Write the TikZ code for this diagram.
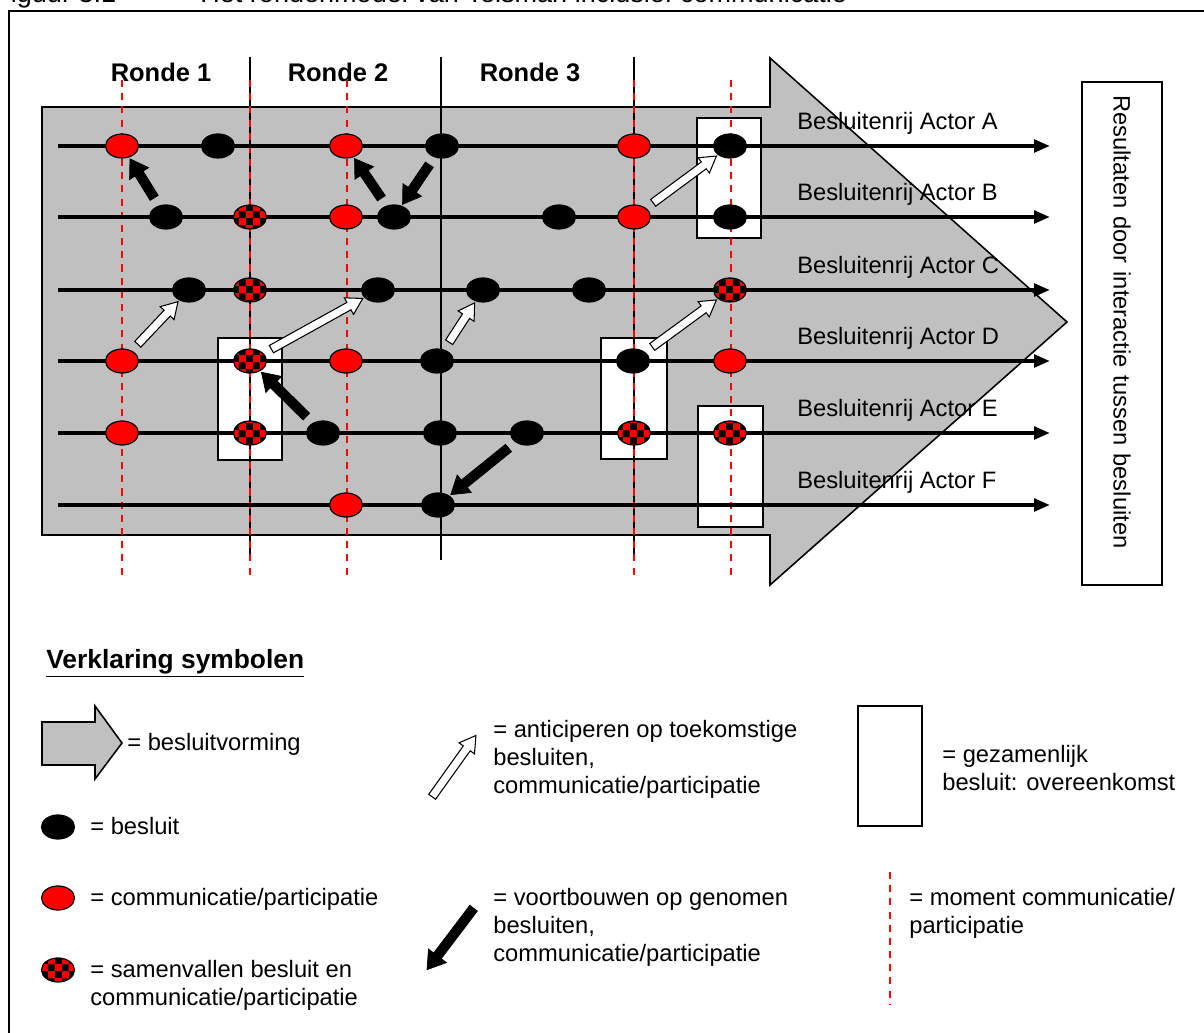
\documentclass[tikz,border=0pt]{standalone}
\usepackage{fontspec}
\setmainfont{Liberation Sans}
\usetikzlibrary{arrows.meta,calc,shapes.geometric,shapes.arrows,patterns.meta}

\definecolor{grijs}{RGB}{192,192,192}

\tikzdeclarepattern{name=ruit,type=uncolored,
  bounding box={(0pt,0pt) and (7.8pt,7.8pt)},tile size={(7.8pt,7.8pt)},
  code={\fill (0pt,0pt) rectangle (3.9pt,3.9pt); \fill (3.9pt,3.9pt) rectangle (7.8pt,7.8pt);}}

% blokpijl van knoop #2 naar knoop #3
\newcommand\pijl[3]{%
  \path (#2) -- (#3) coordinate[pos=0] (p-s) coordinate[pos=1] (p-e);
  \path let \p1=($(p-e)-(p-s)$) in
    node[#1,rotate={atan2(\y1,\x1)},minimum height={veclen(\x1,\y1)-6}] at ($(p-s)!0.5!(p-e)$) {};
}

\begin{document}
\begin{tikzpicture}[x=0.02cm,y=-0.02cm,font=\fontsize{13.5pt}{15.9pt}\selectfont]
  \tikzstyle{knoop}=[ellipse,minimum width=0.66cm,minimum height=0.48cm,inner sep=0pt,line width=0.7pt]
  \tikzstyle{besluit}=[knoop,fill=black,draw=black]
  \tikzstyle{comm}=[knoop,fill=red,draw=black]
  \tikzstyle{samen}=[knoop,draw=black,preaction={fill=red},pattern=ruit,pattern color=black]
  \tikzstyle{akkoord}=[draw,fill=white,line width=1.5pt]
  \tikzstyle{moment}=[red,line width=0.9pt,dash pattern=on 4pt off 3.5pt]
  \tikzstyle{ronde}=[line width=0.85pt]
  \tikzstyle{rij}=[line width=2.3pt,-{Triangle[length=9pt,width=7pt]}]
  \tikzstyle{voort}=[single arrow,fill=black,draw=black,line width=0.4pt,inner xsep=0pt,inner ysep=2.5pt,single arrow head extend=3.7pt,single arrow tip angle=66]
  \tikzstyle{vooruit}=[single arrow,fill=white,draw=black,line width=0.6pt,inner xsep=0pt,inner ysep=2.1pt,single arrow head extend=3pt,single arrow tip angle=62]
  \tikzstyle{uitleg}=[anchor=north west,align=left,inner sep=0pt]
  \useasboundingbox (0,0) rectangle (1204,1033);

  % kop en kader
  \node[anchor=base west,inner sep=0pt,font=\fontsize{15.4pt}{18pt}\selectfont] (fig) at (-6,3) {Figuur 3.1};
  \node[anchor=base west,inner sep=0pt,font=\fontsize{15.4pt}{18pt}\selectfont] (titel) at (200,3) {Het rondenmodel van Teisman inclusief communicatie};
  \draw[line width=1.1pt] (9,11) rectangle (1220,1050);

  % besluitvorming
  \draw[fill=grijs,line width=0.9pt] (42,107) -- (770,107) -- (770,58) -- (1067,322) -- (770,585) -- (770,535) -- (42,535) -- cycle;

  % overeenkomsten
  \draw[akkoord] (218,338) rectangle (282,460);
  \draw[akkoord] (601,338) rectangle (667,459);
  \draw[akkoord] (697,118) rectangle (761,238);
  \draw[akkoord] (698,406) rectangle (763,527);

  % ronden
  \foreach \x in {250,441,634} \draw[ronde] (\x,57) -- (\x,560);
  \foreach \x in {122,250,347,634,731} \draw[moment] (\x,80) -- (\x,580);
  \node[font=\fontsize{14.5pt}{17pt}\selectfont\bfseries,anchor=base] (r1) at (161,82) {Ronde 1};
  \node[font=\fontsize{14.5pt}{17pt}\selectfont\bfseries,anchor=base] (r2) at (338,82) {Ronde 2};
  \node[font=\fontsize{14.5pt}{17pt}\selectfont\bfseries,anchor=base] (r3) at (530,82) {Ronde 3};

  % besluitenrijen
  \foreach \r/\y in {A/146,B/217,C/290,D/361,E/433,F/505} {
    \coordinate (s\r) at (58,\y);
    \coordinate (t\r) at (1050,\y);
    \draw[rij] (s\r) -- (t\r);
    \node[anchor=base west,inner sep=0pt] (l\r) at (797,\y-16) {Besluitenrij Actor \r};
  }

  \node[comm] (a1) at (122,146) {};    \node[besluit] (a2) at (218,146) {};
  \node[comm] (a3) at (346,146) {};    \node[besluit] (a4) at (442,146) {};
  \node[comm] (a5) at (634,146) {};    \node[besluit] (a6) at (730,146) {};

  \node[besluit] (b1) at (166,217) {}; \node[samen] (b2) at (250,217) {};
  \node[comm] (b3) at (346,217) {};    \node[besluit] (b4) at (394,217) {};
  \node[besluit] (b5) at (559,217) {}; \node[comm] (b6) at (634,217) {};
  \node[besluit] (b7) at (730,217) {};

  \node[besluit] (c1) at (189,290) {}; \node[samen] (c2) at (250,290) {};
  \node[besluit] (c3) at (378,290) {}; \node[besluit] (c4) at (483,290) {};
  \node[besluit] (c5) at (589,290) {}; \node[samen] (c6) at (730,290) {};

  \node[comm] (d1) at (122,361) {};    \node[samen] (d2) at (250,361) {};
  \node[comm] (d3) at (346,361) {};    \node[besluit] (d4) at (437,361) {};
  \node[besluit] (d5) at (633,361) {}; \node[comm] (d6) at (730,361) {};

  \node[comm] (e1) at (122,433) {};    \node[samen] (e2) at (250,433) {};
  \node[besluit] (e3) at (323,433) {}; \node[besluit] (e4) at (440,433) {};
  \node[besluit] (e5) at (527,433) {}; \node[samen] (e6) at (634,433) {};
  \node[samen] (e7) at (730,433) {};

  \node[comm] (f1) at (346,505) {};    \node[besluit] (f2) at (438,505) {};

  % voortbouwen en anticiperen
  \pijl{voort}{b1}{a1}
  \pijl{voort}{b4}{a3}
  \pijl{voort}{a4}{b4}
  \pijl{voort}{e3}{d2}
  \pijl{voort}{e5}{f2}
  \pijl{vooruit}{d1}{c1}
  \pijl{vooruit}{d2}{c3}
  \pijl{vooruit}{d4}{c4}
  \pijl{vooruit}{b6}{a6}
  \pijl{vooruit}{d5}{c6}

  % resultaat
  \node[draw,line width=0.8pt,rotate=-90,minimum width=10.06cm,minimum height=1.6cm,
        text width=9.54cm,inner xsep=0.26cm,align=left] (res) at (1122,333.5)
        {Resultaten door interactie tussen besluiten};

  % legenda
  \node[anchor=base west,inner sep=0pt,font=\fontsize{15pt}{18pt}\selectfont\bfseries] (leg) at (46,668) {\underline{Verklaring symbolen}};

  \draw[fill=grijs,line width=0.9pt] (42,722) -- (95,722) -- (95,706) -- (122,743) -- (95,779) -- (95,765) -- (42,765) -- cycle;
  \node[anchor=base west,inner sep=0pt] (lg1) at (127,750) {= besluitvorming};

  \node[besluit] (lb) at (58,827) {};
  \node[anchor=base west,inner sep=0pt] (lg2) at (90,834) {= besluit};
  \node[comm] (lc) at (58,898) {};
  \node[anchor=base west,inner sep=0pt] (lg3) at (90,905) {= communicatie/participatie};
  \node[samen] (ls) at (58,970) {};
  \node[uitleg] (lg4) at (90,960) {= samenvallen besluit en\\communicatie/participatie};

  \coordinate (lv1) at (427,804); \coordinate (lv2) at (477,734);
  \pijl{vooruit}{lv1}{lv2}
  \node[uitleg] (lg5) at (493,720) {= anticiperen op toekomstige\\besluiten,\\communicatie/participatie};
  \coordinate (lw1) at (479,901); \coordinate (lw2) at (426,971);
  \pijl{voort}{lw1}{lw2}
  \node[uitleg] (lg6) at (493,888) {= voortbouwen op genomen\\besluiten,\\communicatie/participatie};

  \draw[akkoord] (858,706) rectangle (922,826);
  \node[uitleg] (lg7) at (942,745) {= gezamenlijk\\besluit: overeenkomst};
  \coordinate (lm1) at (890,872); \coordinate (lm2) at (890,1005);
  \draw[moment] (lm1) -- (lm2);
  \node[uitleg] (lg8) at (909,888) {= moment communicatie/\\participatie};
\end{tikzpicture}
\end{document}
